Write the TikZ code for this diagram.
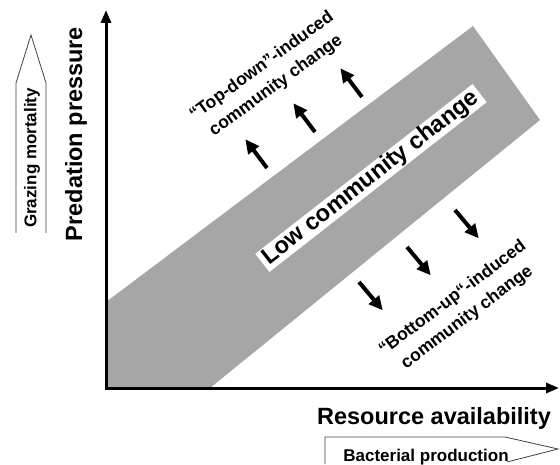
\documentclass[tikz,border=0pt]{standalone}
\usepackage{fontspec}
\setmainfont{Liberation Sans}
\usetikzlibrary{arrows.meta}

\begin{document}
\begin{tikzpicture}[x=1pt,y=1pt,
  axis/.style={line width=3pt,{Triangle[length=13pt,width=10pt]}-{Triangle[length=13pt,width=10pt]}},
  push/.style={line width=4pt,-{Triangle[length=14pt,width=13pt]}},
  outl/.style={draw=black!75,line width=0.8pt},
  big/.style={font=\bfseries\fontsize{23.5}{28}\selectfont,inner sep=0pt},
  mid/.style={font=\bfseries\fontsize{17.5}{24}\selectfont,align=center,inner sep=0pt},
  small/.style={font=\bfseries\fontsize{17}{20}\selectfont,inner sep=0pt}]
\useasboundingbox (0,0) rectangle (560,464);
% shaded band of low change
\fill[black!35] (106,162) -- (473,438) -- (540,344) -- (210,76) -- (106,76) -- cycle;
\coordinate (O) at (106,76);
\coordinate (ytop) at (106,454);
\coordinate (xend) at (559,76);
\draw[axis] (ytop) -- (O) -- (xend);
%axis labels
\node[big,rotate=90] (pred) at (76,330) {Predation pressure};
\node[big] (res) at (434,46) {Resource availability};
\node[small,rotate=90] (graz) at (32,306) {Grazing mortality};
\node[small,anchor=base] (bact) at (426,3) {Bacterial production};
\draw[outl] (16,231) -- (16,381) -- (31,429) -- (46,381) -- (46,231);
\draw[outl] (325,0) -- (325,27) -- (505,27) -- (558,15) -- (507,2);
%labels in the plot
\node[big,fill=white,inner xsep=4pt,inner ysep=0.5pt,rotate=38] (low) at (371,286) {Low community change};
\node[mid,rotate=36] (topdown) at (269,388) {“Top-down”-induced\\community change};
\node[mid,rotate=37] (bottomup) at (460,156) {“Bottom-up“-induced\\community change};
\foreach \x/\y in {267/296, 315/332, 362/367}
  \draw[push] (\x,\y) -- ++(127:36);
\foreach \x/\y in {359/182, 407/217, 455/254}
  \draw[push] (\x,\y) -- ++(-50:37);
\end{tikzpicture}
\end{document}
